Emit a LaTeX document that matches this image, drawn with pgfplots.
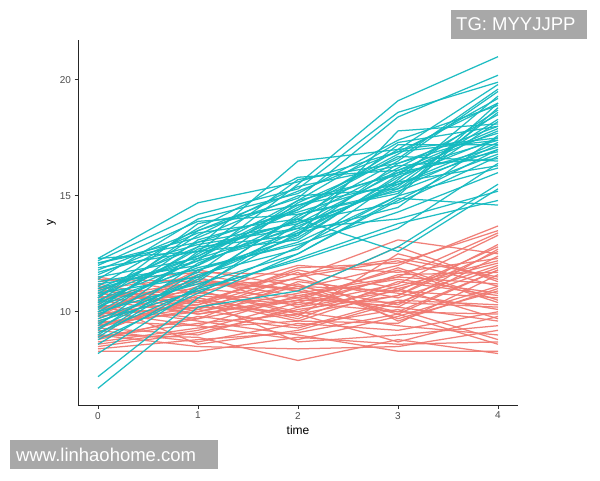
\documentclass[border=0pt]{standalone}
\usepackage{pgfplots}
\usepackage{pgfplotstable}
\pgfplotsset{compat=1.18}
\usepackage{fontspec}
\setmainfont{Liberation Sans}
\definecolor{gred}{HTML}{F07A72}
\definecolor{gteal}{HTML}{14BAC0}
\definecolor{wmgray}{HTML}{A8A8A8}
\definecolor{tickgray}{HTML}{4D4D4D}

\pgfplotstableread{
id t0 t1 t2 t3 t4
a1 8.3 8.3 8.9 8.6 8.7
a2 9.0 8.9 7.9 8.8 8.2
a3 9.8 10.3 11.5 13.1 12.5
a4 10.5 11.2 11.0 12.0 13.7
a5 9.5 10.0 10.8 11.5 13.4
a6 8.6 9.2 10.4 10.0 11.8
a7 10.2 9.6 9.0 8.3 8.3
a8 11.0 11.5 10.2 10.9 12.8
a9 9.2 8.7 9.5 9.2 10.0
a10 10.8 10.4 11.8 11.0 12.1
a11 8.8 9.8 9.3 10.5 10.3
a12 9.6 10.9 10.0 9.4 9.0
a13 11.3 11.7 11.6 12.3 11.5
a14 10.0 9.4 8.8 9.8 11.1
a15 9.3 10.6 9.7 11.3 10.7
a16 10.6 11.0 10.6 10.2 9.6
a17 8.5 9.1 10.1 10.7 12.6
a18 9.9 10.2 11.2 9.7 10.9
a19 10.4 8.6 9.2 10.4 11.9
a20 11.5 10.8 12.0 11.7 12.3
a21 9.4 10.5 8.7 9.0 9.4
a22 10.1 11.4 10.9 12.8 11.3
a23 8.9 9.5 9.9 8.7 9.8
a24 10.7 9.9 10.5 11.9 10.5
a25 9.7 11.1 11.4 10.6 12.0
a26 11.1 10.1 9.4 10.1 8.8
a27 9.1 10.7 10.3 11.2 13.3
a28 10.3 9.7 11.3 10.8 10.1
a29 8.7 9.3 9.6 9.5 11.6
a30 11.4 11.3 10.7 11.4 10.8
a31 9.0 8.5 8.4 8.5 9.2
a32 10.9 10.6 9.8 12.5 11.4
a33 9.8 11.8 11.1 10.3 12.7
a34 10.5 9.9 10.6 11.8 10.4
a35 8.4 8.8 9.1 9.9 8.6
a36 11.2 10.4 11.7 9.6 11.0
a37 9.5 10.2 10.0 11.1 12.2
a38 10.0 11.6 10.9 10.0 9.9
a39 9.3 9.0 10.2 11.6 11.7
a40 10.8 10.3 11.9 12.1 13.5
a41 10.2 10.8 10.4 11.5 11.2
a42 9.6 9.4 10.7 10.2 12.4
a43 11.0 10.0 11.1 10.9 10.6
a44 9.9 10.5 9.6 11.0 9.7
a45 10.6 11.3 11.0 9.9 11.8
a46 8.9 9.7 10.5 10.4 10.2
a47 10.4 10.9 9.9 10.7 12.9
a48 9.4 10.1 11.5 12.2 11.1
}\redraw

\pgfplotstableread{
id t0 t1 t2 t3 t4
b1 10.5 12.2 15.5 19.1 21.0
b2 12.3 14.7 15.6 16.9 17.4
b3 6.7 10.2 10.9 12.8 15.5
b4 7.2 10.6 12.5 14.8 17.0
b5 8.2 11.0 12.2 13.6 16.4
b6 11.0 12.8 16.5 17.0 19.8
b7 12.2 14.2 15.3 18.6 19.9
b8 11.8 13.5 14.9 18.4 20.2
b9 10.2 12.0 14.0 16.2 18.5
b10 9.5 11.5 13.5 15.5 17.3
b11 10.8 13.0 13.8 16.0 17.8
b12 11.5 12.3 14.5 16.8 19.2
b13 9.0 11.8 13.0 15.0 16.2
b14 10.0 11.2 12.5 14.9 14.6
b15 12.0 13.9 14.2 15.2 16.8
b16 9.8 12.5 14.8 17.3 18.0
b17 11.2 11.8 13.2 15.8 17.5
b18 8.8 10.8 12.8 15.0 18.8
b19 10.6 13.3 15.4 16.3 16.6
b20 11.7 12.9 13.6 14.0 15.2
b21 9.3 11.4 14.1 16.5 19.5
b22 10.3 12.7 13.9 17.2 17.2
b23 12.1 13.2 15.0 15.3 18.2
b24 9.6 10.9 12.3 13.8 14.8
b25 10.9 12.4 14.6 16.0 16.9
b26 11.4 14.0 15.1 17.4 18.9
b27 8.6 11.1 13.4 14.5 17.6
b28 10.1 13.1 14.3 15.6 18.3
b29 11.9 12.6 13.1 15.9 17.1
b30 9.9 11.7 14.7 16.6 19.6
b31 10.4 11.9 12.9 14.3 16.0
b32 11.1 13.6 15.8 16.1 17.9
b33 9.2 12.1 13.7 15.4 18.6
b34 10.7 12.4 14.4 16.7 16.5
b35 11.6 13.4 14.0 12.6 15.3
b36 9.7 11.3 14.2 15.1 19.0
b37 10.2 12.8 13.3 17.8 18.1
b38 12.3 12.6 15.7 16.4 17.7
b39 8.9 11.6 12.7 15.7 19.3
b40 10.6 13.8 14.6 15.5 17.0
b41 10.0 12.3 13.6 16.1 17.4
b42 11.3 12.0 14.8 15.9 18.7
b43 9.4 12.6 13.9 14.7 16.7
b44 10.8 11.5 13.3 16.4 18.0
b45 12.1 13.0 14.4 17.0 17.5
b46 9.1 11.0 13.8 15.3 17.2
b47 10.4 13.5 15.2 16.9 19.0
b48 11.0 12.2 13.4 15.6 16.3
}\tealraw

\pgfplotstabletranspose[colnames from=id]{\redT}{\redraw}
\pgfplotstabletranspose[colnames from=id]{\tealT}{\tealraw}

\begin{document}
\begin{tikzpicture}[x=1pt,y=1pt]
\path[use as bounding box, fill=white] (0,0) rectangle (600,480);
\begin{axis}[
  at={(78pt,75pt)}, anchor=south west,
  scale only axis, width=440pt, height=365pt,
  xmin=-0.2, xmax=4.2, ymin=5.98, ymax=21.72,
  axis x line*=bottom, axis y line*=left,
  axis line style={draw=black!85, line width=0.9pt},
  xtick={0,1,2,3,4}, ytick={10,15,20},
  tick align=outside, major tick length=3.5pt,
  tick style={draw=black!80, line width=0.8pt},
  ticklabel style={font=\fontsize{10}{10}\selectfont, text=tickgray},
  /pgf/number format/assume math mode=true,
  xlabel={time}, ylabel={y},
  label style={font=\fontsize{12}{12}\selectfont, text=black},
  xlabel style={yshift=0pt},
  ylabel style={yshift=-3pt},
  clip=false,
]
\foreach \i in {1,...,48} {
  \addplot[gred, line width=1.25pt, opacity=0.95] table[x expr=\coordindex, y=a\i] {\redT};
}
\foreach \i in {1,...,48} {
  \addplot[gteal, line width=1.25pt, opacity=0.95] table[x expr=\coordindex, y=b\i] {\tealT};
}
\end{axis}
\fill[wmgray] (451,441) rectangle (587,470);
\node[anchor=base west, inner sep=0pt, text=white, font=\fontsize{18.5}{19}\selectfont] at (456,449.3) {TG: MYYJJPP};
\fill[wmgray] (10,11) rectangle (218,40);
\node[anchor=base west, inner sep=0pt, text=white, font=\fontsize{18.5}{19}\selectfont] at (16,18.3) {www.linhaohome.com};
\end{tikzpicture}
\end{document}
